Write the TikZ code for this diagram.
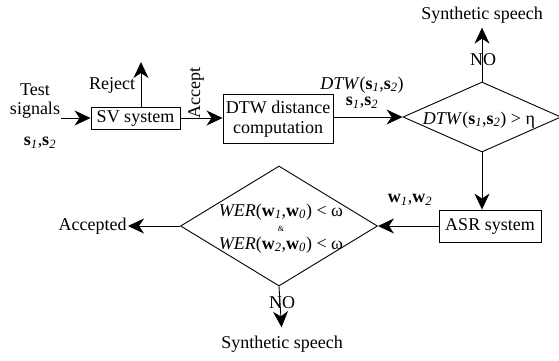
\documentclass[tikz,border=0pt]{standalone}
\usepackage{fontspec}
\setmainfont{Liberation Serif}
\usetikzlibrary{arrows.meta,shapes.geometric}
\newcommand{\isub}[1]{\textsubscript{\textit{#1}}}
\newcommand{\bvec}[2]{\textbf{#1}\isub{#2}}
\newcommand{\newBlock}[4]{\node[block,#3](#1) at (#4) {#2};}
\newcommand{\newLink}[3]{\draw[flow,#3] (#1) -- (#2);}

\begin{document}
\begin{tikzpicture}[
    % Pixel-like units
    x=1pt,y=-1pt,
    % Default arrow tip
    flow/.style={-{Stealth[length=16pt,width=15pt,inset=5pt]}},
    % Edge stroke thickness
    line width=0.9pt,
    every node/.style={font=\fontsize{18}{22}\selectfont,inner sep=1pt},
    block/.style={draw,rectangle,align=center,inner sep=2pt},
    test/.style={diamond,draw,inner sep=0pt}
    ]
    \useasboundingbox (0,0) rectangle (559,360);

    % Blocks
    \newBlock{sv}{SV system}{minimum width=89pt,minimum height=22pt}{135.5,118}
    \newBlock{dtw}{DTW distance\\[-2pt]computation}{minimum width=110pt,minimum height=49pt}{278,119}
    \newBlock{asr}{ASR system}{minimum width=102pt,minimum height=32pt}{490,226}

    % Decisions
    \node[test,minimum width=158pt,minimum height=70pt](thresh) at (482,117) {};
    \node at (479,120) {\textit{DTW}(\bvec{s}{1},\bvec{s}{2}) > η};
    \node[test,minimum width=197pt,minimum height=120pt](wer) at (279,226) {};
    \node at (281,212) {\textit{WER}(\bvec{w}{1},\bvec{w}{0}) < ω};
    \node[font=\fontsize{8}{8}\selectfont] at (281,229) {\&};
    \node at (281,245) {\textit{WER}(\bvec{w}{2},\bvec{w}{0}) < ω};

    % Labels
    \node[align=center](sig) at (35,101) {Test\\[-3pt]signals};
    \node at (40,143) {\bvec{s}{1},\bvec{s}{2}};
    \coordinate (rej) at (141,62);
    \node at (112,85) {Reject};
    \node[rotate=90] at (196,93) {Accept};
    \node at (362,85) {\textit{DTW}(\bvec{s}{1},\bvec{s}{2})};
    \node at (362,103) {\bvec{s}{1},\bvec{s}{2}};
    \node(syn1) at (482,15) {Synthetic speech};
    \node at (483,60) {NO};
    \node at (410,200) {\bvec{w}{1},\bvec{w}{2}};
    \node[anchor=east](acc) at (128,226) {Accepted};
    \node at (282,303) {NO};
    \node(syn2) at (282,344) {Synthetic speech};

    % Connections
    \newLink{sig.east |- sv.west}{sv.west}{}
    \newLink{sv.north -| rej}{rej}{}
    \newLink{sv.east}{sv.east -| dtw.west}{}
    \newLink{thresh.west -| dtw.east}{thresh.west}{}
    \newLink{thresh.north}{syn1.south}{shorten >=3pt}
    \newLink{thresh.south}{thresh.south |- asr.north}{}
    \newLink{asr.west}{wer.east}{}
    \newLink{wer.west}{acc.east}{}
    \newLink{wer.south}{syn2.north}{shorten >=7pt}
\end{tikzpicture}
\end{document}
